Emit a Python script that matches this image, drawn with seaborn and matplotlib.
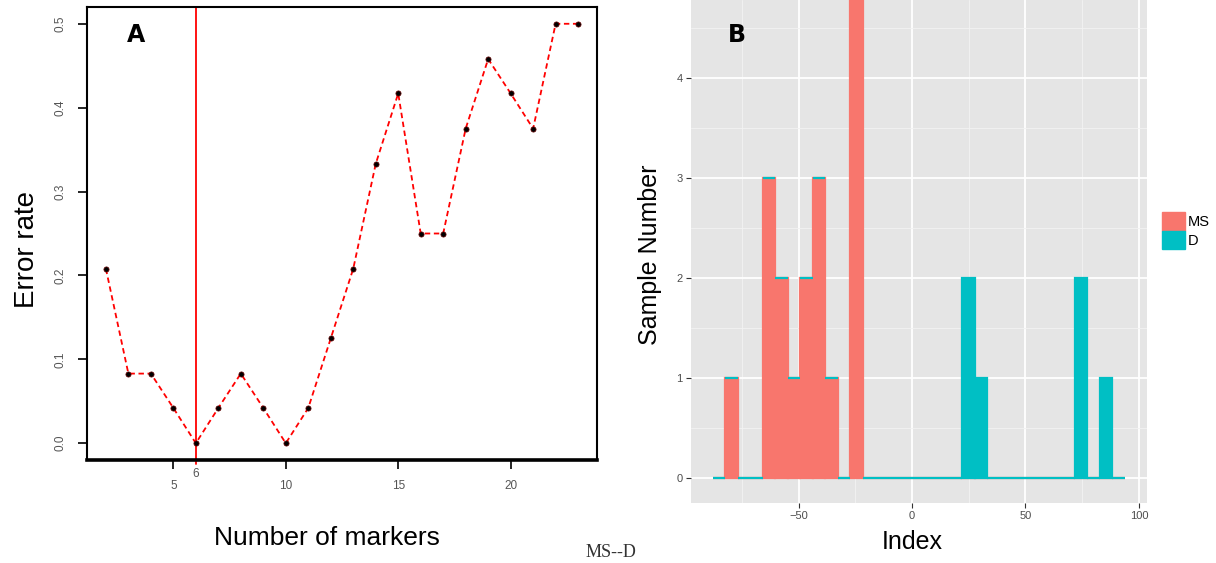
import matplotlib
matplotlib.use("Agg")
import matplotlib.pyplot as plt
from matplotlib.patches import Patch
from matplotlib.ticker import MultipleLocator
import seaborn as sns
import pandas as pd

sns.set_style("white")
plt.rcParams['font.family'] = ['Liberation Sans', 'DejaVu Sans']
plt.rcParams['text.color'] = 'black'

# ---- panel A: error rate by number of markers
n_markers = list(range(2, 24))
error_rate = [0.208, 0.083, 0.083, 0.042, 0.0, 0.042, 0.083, 0.042, 0.0, 0.042, 0.125,
              0.208, 0.333, 0.417, 0.25, 0.25, 0.375, 0.458, 0.417, 0.375, 0.5, 0.5]
best_n = 6
a_xticks = [5, 10, 15, 20]
a_yticks = [0.0, 0.1, 0.2, 0.3, 0.4, 0.5]

# ---- panel B: stacked histogram of index (bin centres, width 5.5)
bin_centers = [-85, -79.5, -74, -68.5, -63, -57.5, -52, -46.5, -41, -35.5, -30,
               -24.5, -19, -13.5, -8, -2.5, 3, 8.5, 14, 19.5, 25, 30.5, 36,
               41.5, 47, 52.5, 58, 63.5, 69, 74.5, 80, 85.5, 91]
ms_counts = [0, 1, 0, 0, 3, 2, 1, 2, 3, 1, 0, 5, 0, 0, 0, 0, 0, 0, 0, 0, 0, 0, 0,
             0, 0, 0, 0, 0, 0, 0, 0, 0, 0]
d_counts = [0, 0, 0, 0, 0, 0, 0, 0, 0, 0, 0, 0, 0, 0, 0, 0, 0, 0, 0, 0, 2, 1, 0,
            0, 0, 0, 0, 0, 0, 2, 0, 1, 0]
groups = ['MS', 'D']
colors = {'MS': '#F8766D', 'D': '#00BFC4'}

W, H = 1216, 563
fig = plt.figure(figsize=(W / 100, H / 100), dpi=100)


def fx(px):
    return px / W


def fy(py):
    return 1 - py / H


# ---------------- panel A
axA = fig.add_axes([fx(87), fy(460), fx(597) - fx(87), fy(7) - fy(460)])
sns.lineplot(x=n_markers, y=error_rate, color='red', linestyle=(0, (3, 2)),
             linewidth=1.3, ax=axA)
sns.scatterplot(x=n_markers, y=error_rate, color='black', s=14, edgecolor='#600',
                linewidth=0.5, zorder=3, ax=axA)
axA.axvline(best_n, ymin=-0.008, ymax=1, color='red', linewidth=1.3, zorder=2,
            clip_on=False)
axA.set_xlim(1.16, 23.84)
axA.set_ylim(-0.02, 0.52)
axA.set_xticks(a_xticks)
axA.set_yticks(a_yticks)
axA.set_yticklabels([f"{v:.1f}" for v in a_yticks], rotation=90, va='center')
axA.tick_params(axis='both', which='major', direction='out', length=6.5, width=1.2,
                color='black', labelsize=8.5, labelcolor='#555555', pad=8,
                bottom=True, left=True)
for s in axA.spines.values():
    s.set_color('black')
    s.set_linewidth(1.5)
axA.spines['bottom'].set_linewidth(2.6)
axA.set_xlabel('')
axA.set_ylabel('')
axA.text(best_n, -0.03, str(best_n), ha='center', va='top', fontsize=8.5,
         color='#555555', clip_on=False)
fig.text(fx(136), fy(35), 'A', ha='center', va='center', fontsize=17,
         fontweight='heavy', family='DejaVu Sans')
fig.text(fx(27), fy(250), 'Error rate', rotation=90, ha='center', va='center', fontsize=20)
fig.text(fx(327), fy(538), 'Number of markers', ha='center', va='center', fontsize=19)

# ---------------- panel B
df = pd.DataFrame({
    'Index': bin_centers * 2,
    'count': ms_counts + d_counts,
    'group': ['MS'] * len(bin_centers) + ['D'] * len(bin_centers),
})
axB = fig.add_axes([fx(691), fy(503), fx(1146.6) - fx(691), fy(0) - fy(503)])
axB.set_facecolor('#E5E5E5')
sns.histplot(data=df, x='Index', weights='count', hue='group', hue_order=['D', 'MS'],
             multiple='stack', binwidth=5.5, binrange=(-87.75, 93.75),
             palette=colors, alpha=1, legend=False, ax=axB, zorder=2)
for p in axB.patches:
    p.set_edgecolor(p.get_facecolor())
    p.set_linewidth(1.6)
axB.set_xlim(-97.4, 103.4)
axB.set_ylim(-0.25, 4.78)
axB.xaxis.set_major_locator(MultipleLocator(50))
axB.xaxis.set_minor_locator(MultipleLocator(25))
axB.yaxis.set_major_locator(MultipleLocator(1))
axB.yaxis.set_minor_locator(MultipleLocator(0.5))
axB.grid(which='major', color='white', linewidth=1.3, zorder=0)
axB.grid(which='minor', color='#F3F3F3', linewidth=0.6, zorder=0)
axB.set_axisbelow(True)
for s in axB.spines.values():
    s.set_visible(False)
axB.tick_params(axis='both', which='major', direction='out', length=3.5, width=0.8,
                color='#333333', labelsize=8, labelcolor='#4D4D4D', pad=2.5,
                bottom=True, left=True)
axB.tick_params(which='minor', length=0)
axB.set_xlabel('')
axB.set_ylabel('')
fig.text(fx(737), fy(35), 'B', ha='center', va='center', fontsize=17,
         fontweight='heavy', family='DejaVu Sans')
fig.text(fx(650), fy(255), 'Sample Number', rotation=90, ha='center', va='center',
         fontsize=18)
fig.text(fx(912), fy(542), 'Index', ha='center', va='center', fontsize=18)

handles = [Patch(facecolor=colors[g], edgecolor=colors[g], label=g) for g in groups]
fig.legend(handles=handles, loc='upper left', bbox_to_anchor=(fx(1162), fy(212)),
           frameon=False, fontsize=10.5, handlelength=1.6, handleheight=1.6,
           handletextpad=0.15, labelspacing=0.0, borderpad=0, borderaxespad=0)

# partial caption at the bottom edge of the picture
fig.text(fx(586), fy(544), 'MS--D', ha='left', va='top', fontsize=13,
         family='Liberation Serif', color='#333333')

fig.savefig('out.png', dpi=100)
